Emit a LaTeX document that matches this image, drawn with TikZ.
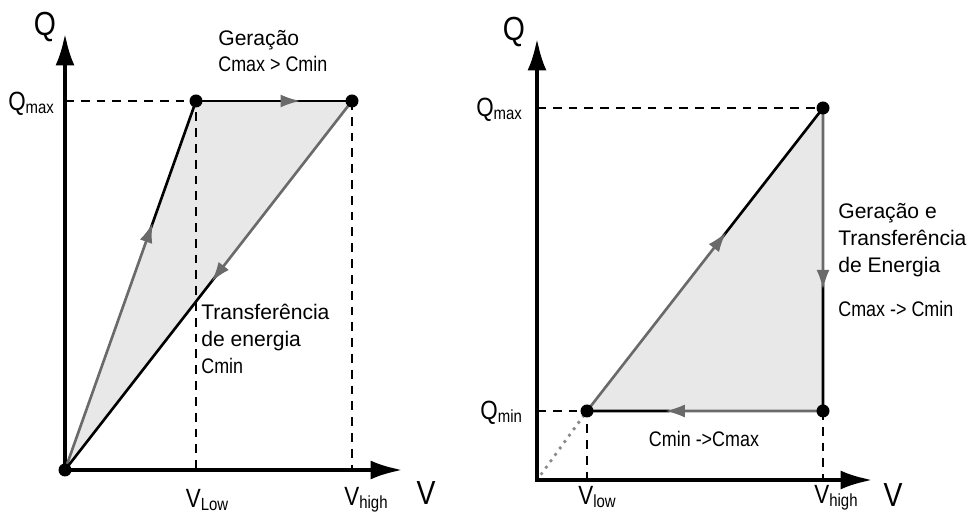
\documentclass[tikz,border=0pt]{standalone}
\usepackage{graphicx}
\usepackage{fontspec}
\setmainfont{Liberation Sans}
\usetikzlibrary{arrows.meta,calc}
\definecolor{CycGray}{HTML}{6A6A6A}
\definecolor{CycFill}{HTML}{E8E8E8}
\definecolor{CycDot}{HTML}{8A8A8A}
\newcommand{\axsub}[2]{\scalebox{0.85}[1]{{\fontsize{15}{15}\selectfont #1}%
  \raisebox{-1.8pt}{\fontsize{10}{10}\selectfont #2}}}
\newcommand{\narrow}[1]{\scalebox{0.85}[1]{#1}}

\begin{document}
\begin{tikzpicture}[
  x=0.02cm,y=0.02cm,
  axis/.style={{Latex[length=6.5mm,width=3.8mm]}-{Latex[length=6.5mm,width=3.8mm]},
    line width=2.6pt},
  guide/.style={line width=0.8pt,dash pattern=on 5pt off 4pt},
  upto/.style={-{Latex[length=4mm,width=2.6mm]},draw=CycGray,line width=1.5pt},
  rest/.style={draw=black,line width=1.5pt},
  area/.style={fill=CycFill},
  dotline/.style={draw=CycDot,line width=2.2pt,line cap=round,
    dash pattern=on 0pt off 4.5pt},
  dot/.style={circle,fill=black,inner sep=0pt,minimum size=2.6mm},
  axname/.style={inner sep=0pt,font=\fontsize{19}{19}\selectfont},
  tick/.style={inner sep=1pt},
  note/.style={align=left,inner sep=0pt,font=\fontsize{12}{15.3}\selectfont}
]
\useasboundingbox (0,0) rectangle (968,520);

% left cycle: Cmax > Cmin
\coordinate (o1) at (65,50);
\coordinate (q1) at (65,487);
\coordinate (v1) at (403,50);
\coordinate (a1) at (196,419);
\coordinate (b1) at (352,419);

\fill[area] (o1) -- (a1) -- (b1) -- cycle;
\draw[guide] (o1 |- a1) -- (a1) -- (a1 |- o1);
\draw[guide] (b1) -- (b1 |- o1);
\draw[axis] (q1) |- (v1);

\coordinate (m1) at ($(o1)!0.67!(a1)$);
\coordinate (k1) at ($(o1)!0.64!(a1)$);
\draw[rest] (k1) -- (a1);
\draw[upto] (o1) -- (m1);
\coordinate (n2) at ($(a1)!0.6!(b1)$);
\coordinate (m2) at ($(a1)!0.67!(b1)$);
\draw[rest] (a1) -- (b1);
\draw[upto] (n2) -- (m2);
\coordinate (m3) at ($(b1)!0.49!(o1)$);
\coordinate (k3) at ($(b1)!0.47!(o1)$);
\draw[rest] (k3) -- (o1);
\draw[upto] (b1) -- (m3);

\node[dot] (d0) at (o1) {};
\node[dot] (da) at (a1) {};
\node[dot] (db) at (b1) {};

\node[axname] (qaxis1) at (45,493) {\narrow{Q}};
\node[tick,anchor=east] (qmax1) at (56,416) {\axsub{Q}{max}};
\node[tick] (vlow1) at (207,20) {\axsub{V}{Low}};
\node[tick] (vhigh1) at (366,20) {\axsub{V}{high}};
\node[axname] (vaxis1) at (426,27) {\narrow{V}};
\node[note,anchor=west] (gen1) at (218,469) {Geração\\\narrow{Cmax > Cmin}};
\node[note,anchor=west] (tr1) at (201,181) {Transferência\\de energia\\\narrow{Cmin}};

% right cycle: Qmin -> Qmax
\coordinate (o2) at (537,40);
\coordinate (q2) at (537,482);
\coordinate (v2) at (873,40);
\coordinate (p1) at (587,109);
\coordinate (p2) at (823,412);
\coordinate (p3) at (823,109);

\fill[area] (p1) -- (p2) -- (p3) -- cycle;
\draw[guide] (o2 |- p2) -- (p2);
\draw[guide] (o2 |- p1) -- (p1) -- (p1 |- o2);
\draw[guide] (p3) -- (p3 |- o2);
\draw[dotline] (o2) -- (p1);
\draw[axis] (q2) |- (v2);

\coordinate (m4) at ($(p1)!0.59!(p2)$);
\coordinate (k4) at ($(p1)!0.57!(p2)$);
\draw[rest] (k4) -- (p2);
\draw[upto] (p1) -- (m4);
\coordinate (m5) at ($(p2)!0.6!(p3)$);
\coordinate (k5) at ($(p2)!0.58!(p3)$);
\draw[rest] (k5) -- (p3);
\draw[upto] (p2) -- (m5);
\coordinate (m6) at ($(p3)!0.67!(p1)$);
\coordinate (k6) at ($(p3)!0.65!(p1)$);
\draw[rest] (k6) -- (p1);
\draw[upto] (p3) -- (m6);

\node[dot] (d1) at (p1) {};
\node[dot] (d2) at (p2) {};
\node[dot] (d3) at (p3) {};

\node[axname] (qaxis2) at (514,488) {\narrow{Q}};
\node[tick,anchor=east] (qmax2) at (524,410) {\axsub{Q}{max}};
\node[tick,anchor=east] (qmin2) at (524,107) {\axsub{Q}{min}};
\node[tick] (vlow2) at (597,23) {\axsub{V}{low}};
\node[tick] (vhigh2) at (836,22) {\axsub{V}{high}};
\node[axname] (vaxis2) at (893,25) {\narrow{V}};
\node[note,anchor=west] (gen2) at (838,280) {Geração e\\Transferência\\de Energia};
\node[note,anchor=west] (cyc2) at (838,211) {\narrow{Cmax -> Cmin}};
\node[note] (cyc3) at (704,81) {\narrow{Cmin ->Cmax}};

\end{tikzpicture}
\end{document}
